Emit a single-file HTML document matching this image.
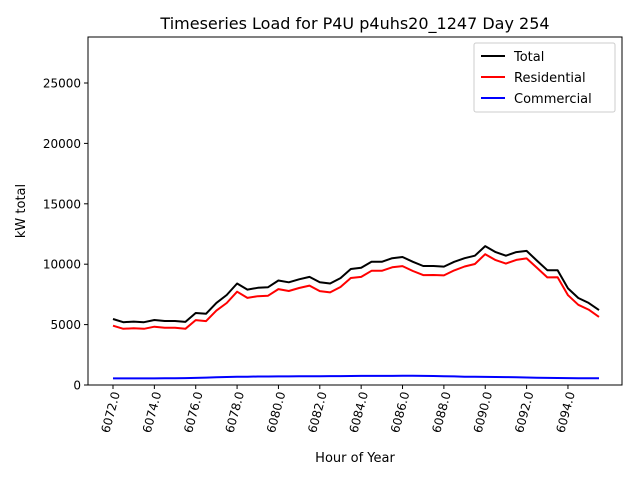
<!DOCTYPE html>
<html><head><meta charset="utf-8"><style>
body{margin:0;background:#fff;font-family:"Liberation Sans","DejaVu Sans",sans-serif}
</style></head><body>
<svg id="chart" width="640" height="480" xmlns="http://www.w3.org/2000/svg" style="font-family:'DejaVu Sans','Liberation Sans',sans-serif">
<rect width="640" height="480" fill="#fff"/>
<text x="355" y="29" text-anchor="middle" font-size="16">Timeseries Load for P4U p4uhs20_1247  Day 254</text>
<g id="axes"></g>
<g id="series"></g>
<rect x="88" y="37" width="534" height="348" fill="none" stroke="#000" stroke-width="1"/>
<g>
<rect x="474" y="43" width="141" height="69" fill="#fff" stroke="#ccc" rx="2"/>
<g><line x1="481" y1="56" x2="505" y2="56" stroke="#000" stroke-width="2"/><text x="514" y="61" font-size="13">Total</text></g>
<g><line x1="481" y1="77" x2="505" y2="77" stroke="red" stroke-width="2"/><text x="514" y="82" font-size="13">Residential</text></g>
<g><line x1="481" y1="98" x2="505" y2="98" stroke="blue" stroke-width="2"/><text x="514" y="103" font-size="13">Commercial</text></g>
</g>
<text x="355" y="462" text-anchor="middle" font-size="13">Hour of Year</text>
<text transform="translate(25,211) rotate(-90)" text-anchor="middle" font-size="13">kW total</text>
</svg>
<script>
const startHour = 6072;
const stepHours = 0.5;
const residential = [4910,4650,4700,4650,4830,4745,4740,4650,5370,5290,6160,6790,7720,7210,7350,7395,7940,7785,8030,8225,7770,7665,8110,8855,8950,9450,9450,9745,9840,9440,9095,9105,9070,9490,9810,10020,10830,10340,10050,10360,10480,9700,8910,8920,7430,6635,6240,5640];
const commercial = [550,550,550,550,550,555,560,570,590,610,640,660,680,690,700,705,710,715,720,725,730,735,740,745,750,750,750,755,760,760,755,745,730,710,690,680,670,660,650,640,620,600,590,580,570,565,560,560];
const xTicks = [6072,6074,6076,6078,6080,6082,6084,6086,6088,6090,6092,6094];
const yTicks = [0,5000,10000,15000,20000,25000];

const NS="http://www.w3.org/2000/svg";
const X = h => 113 + (h-6072)*20.68;
const Y = v => 385 - v*(302/25000);
const axes=document.getElementById('axes'), series=document.getElementById('series');
function mk(tag,attrs,parent){const e=document.createElementNS(NS,tag);for(const k in attrs)e.setAttribute(k,attrs[k]);parent.appendChild(e);return e;}
xTicks.forEach(t=>{
  const g=mk('g',{},axes);
  
  
  mk('line',{x1:X(t),x2:X(t),y1:385,y2:389,stroke:'#000'},g);
  const tx=mk('text',{transform:`translate(${X(t)+7},393) rotate(-75)`,'text-anchor':'end','font-size':'12'},g);
  tx.textContent=t.toFixed(1);
});
yTicks.forEach(t=>{
  const g=mk('g',{},axes);
  
  
  mk('line',{x1:84,x2:88,y1:Y(t),y2:Y(t),stroke:'#000'},g);
  const tx=mk('text',{x:81,y:Y(t)+4.5,'text-anchor':'end','font-size':'12'},g);
  tx.textContent=t;
});
const total = residential.map((r,i)=>r+commercial[i]);
function line(arr,color,name){
  const d=arr.map((v,i)=>(i?'L':'M')+X(startHour+i*stepHours).toFixed(1)+','+Y(v).toFixed(1)).join('');
  const p=mk('path',{d:d,fill:'none',stroke:color,'stroke-width':2,'stroke-linejoin':'round'},series);
  
  
}
line(total,'#000','total-line');
line(residential,'red','residential-line');
line(commercial,'blue','commercial-line');
</script>
</body></html>
